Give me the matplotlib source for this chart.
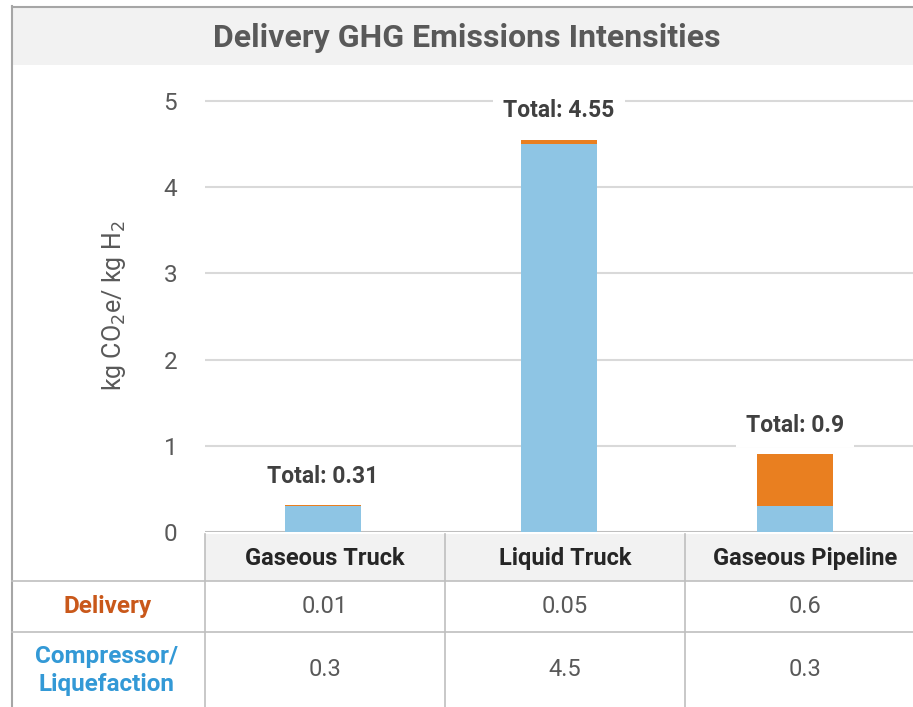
import matplotlib
matplotlib.use("Agg")
import matplotlib.pyplot as plt
from matplotlib.patches import Rectangle

plt.rcParams['font.family'] = ['Roboto', 'DejaVu Sans']

categories = ["Gaseous Truck", "Liquid Truck", "Gaseous Pipeline"]
compressor = [0.3, 4.5, 0.3]
delivery = [0.01, 0.05, 0.6]
delivery_labels = ["0.01", "0.05", "0.6"]
compressor_labels = ["0.3", "4.5", "0.3"]
yticks = [0, 1, 2, 3, 4, 5]
title = "Delivery GHG Emissions Intensities"

W, H = 913, 707
fig = plt.figure(figsize=(W / 100, H / 100), dpi=100)

# background / table axes in pixel coords
bg = fig.add_axes([0, 0, 1, 1])
bg.set_xlim(0, W)
bg.set_ylim(H, 0)
bg.axis('off')

grey = "#bfbfbf"
txt = "#595959"
blue = "#8EC5E4"
orange = "#E97F20"

# title band
bg.add_patch(Rectangle((13, 7), W - 13, 58, color="#f2f2f2", lw=0))
bg.text(467, 38, title, ha='center', va='center', fontsize=23, fontweight='bold', color=txt)
# outer borders
bg.plot([12, 12], [6, H], color="#a6a6a6", lw=1.5)
bg.plot([12, W], [6.5, 6.5], color="#a6a6a6", lw=1.5)

# table
x0, colw = 205, 240
top, r1, r2 = 534, 581, 632
bg.add_patch(Rectangle((x0, top), W - x0, r1 - top, color="#f2f2f2", lw=0))
for yy in [r1, r2]:
    bg.plot([12, W], [yy, yy], color=grey, lw=1.2)
for i in range(3):
    bg.plot([x0 + i * colw] * 2, [top, H], color=grey, lw=1.2)
for i, c in enumerate(categories):
    cx = x0 + colw * (i + 0.5)
    bg.text(cx, (top + r1) / 2 + 1, c, ha='center', va='center', fontsize=17, fontweight='bold', color="#262626")
    bg.text(cx, (r1 + r2) / 2, delivery_labels[i], ha='center', va='center', fontsize=17, color=txt)
    bg.text(cx, (r2 + H) / 2, compressor_labels[i], ha='center', va='center', fontsize=17, color=txt)
bg.text(108, (r1 + r2) / 2, "Delivery", ha='center', va='center', fontsize=17.5, fontweight='bold', color="#C9581A")
bg.text(107, (r2 + H) / 2 + 1, "Compressor/\nLiquefaction", ha='center', va='center', fontsize=17.5,
        fontweight='bold', color="#3399D6", linespacing=1.25)

# chart axes
y0px, y5px = 532, 101
unit = (y0px - y5px) / 5
ax_top = 70
ymax = (y0px - ax_top) / unit
ax = fig.add_axes([x0 / W, (H - y0px) / H, (W - x0) / W, (y0px - ax_top) / H])
ax.patch.set_alpha(0)
ax.set_xlim(0, 3)
ax.set_ylim(0, ymax)
for s in ax.spines.values():
    s.set_visible(False)
ax.set_xticks([])
ax.set_yticks(yticks)
ax.set_yticklabels([str(t) for t in yticks], fontsize=17.5, color=txt)
ax.tick_params(axis='y', length=0, pad=20)
for t in yticks[1:]:
    ax.axhline(t, color="#d9d9d9", lw=1.5, zorder=0)
ax.axhline(0, color="#bfbfbf", lw=1.5, zorder=1)

xs = [i + 0.5 for i in range(3)]
bw = 0.32
ax.bar(xs, compressor, width=bw, color=blue, zorder=2)
ax.bar(xs, delivery, bottom=compressor, width=bw, color=orange, zorder=2)
for x, c, d in zip(xs, compressor, delivery):
    tot = round(c + d, 2)
    ax.annotate(f"Total: {tot:g}", (x, c + d), xytext=(0, 21), textcoords='offset points',
                ha='center', va='center', fontsize=16.5, fontweight='bold', color="#404040",
                bbox=dict(boxstyle='square,pad=0.45', fc='white', ec='none'), zorder=3)

ax.set_ylabel("kg CO$_2$e/ kg H$_2$", fontsize=18, color=txt)
ax.yaxis.set_label_coords(-0.109, 0.49)

fig.savefig("out.png", dpi=100)
